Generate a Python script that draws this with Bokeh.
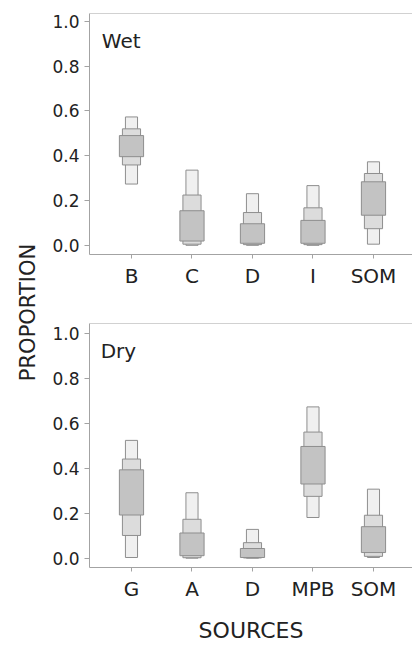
from math import pi
from bokeh.plotting import figure
from bokeh.models import (Range1d, FixedTicker, PrintfTickFormatter, Label, Span,
                          ColumnDataSource)
from bokeh.layouts import row, column
from bokeh.embed import file_html
from bokeh.resources import INLINE

# ---------------- data ----------------
y_ticks = [0.0, 0.2, 0.4, 0.6, 0.8, 1.0]

wet_sources = ["B", "C", "D", "I", "SOM"]
wet_lo95 = [0.274, 0.001, 0.001, 0.001, 0.006]
wet_hi95 = [0.573, 0.336, 0.231, 0.267, 0.373]
wet_lo75 = [0.359, 0.006, 0.004, 0.004, 0.075]
wet_hi75 = [0.520, 0.225, 0.147, 0.168, 0.321]
wet_lo50 = [0.396, 0.020, 0.010, 0.010, 0.135]
wet_hi50 = [0.490, 0.155, 0.097, 0.112, 0.284]

dry_sources = ["G", "A", "D", "MPB", "SOM"]
dry_lo95 = [0.004, 0.001, 0.001, 0.182, 0.004]
dry_hi95 = [0.525, 0.292, 0.129, 0.674, 0.308]
dry_lo75 = [0.102, 0.003, 0.002, 0.276, 0.009]
dry_hi75 = [0.442, 0.174, 0.070, 0.562, 0.192]
dry_lo50 = [0.193, 0.012, 0.004, 0.331, 0.026]
dry_hi50 = [0.394, 0.113, 0.044, 0.498, 0.141]

FONT = "DejaVu Sans"
AX = "#a3a3a3"
TXT = "#222222"
EDGE = "#8e8e8e"


def panel(name, cats, lo95, hi95, lo75, hi75, lo50, hi50, height, b_top, b_bottom,
          y0, y1, name_x, name_y, xlabel=None):
    p = figure(width=372, height=height, output_backend="svg", toolbar_location=None,
               x_range=Range1d(0.306, 5.645), y_range=Range1d(y0, y1),
               min_border_left=49, min_border_right=0,
               min_border_top=b_top, min_border_bottom=b_bottom)
    p.outline_line_color = None
    p.grid.visible = False
    p.background_fill_color = "white"
    p.border_fill_color = "white"

    pos = list(range(1, len(cats) + 1))
    src = ColumnDataSource(dict(x=pos, lo95=lo95, hi95=hi95, lo75=lo75, hi75=hi75,
                                lo50=lo50, hi50=hi50))
    p.vbar(x="x", width=0.2, bottom="lo95", top="hi95", source=src,
           fill_color="#f0f0f0", line_color=EDGE, line_width=1)
    p.vbar(x="x", width=0.3, bottom="lo75", top="hi75", source=src,
           fill_color="#dcdcdc", line_color=EDGE, line_width=1)
    p.vbar(x="x", width=0.4, bottom="lo50", top="hi50", source=src,
           fill_color="#c3c3c3", line_color=EDGE, line_width=1)

    xa = p.xaxis[0]
    xa.ticker = FixedTicker(ticks=pos)
    xa.major_label_overrides = {i: c for i, c in zip(pos, cats)}
    xa.minor_tick_line_color = None
    xa.major_tick_in = 0
    xa.major_tick_out = 4
    xa.major_label_standoff = 5
    xa.axis_line_color = AX
    xa.major_tick_line_color = AX
    xa.major_label_text_font = FONT
    xa.major_label_text_font_size = "20px"
    xa.major_label_text_color = TXT
    if xlabel:
        xa.axis_label = xlabel
        xa.axis_label_text_font = FONT
        xa.axis_label_text_font_size = "22px"
        xa.axis_label_text_font_style = "normal"
        xa.axis_label_text_color = TXT
        xa.axis_label_standoff = 14

    ya = p.yaxis[0]
    ya.ticker = FixedTicker(ticks=y_ticks)
    ya.formatter = PrintfTickFormatter(format="%.1f")
    ya.minor_tick_line_color = None
    ya.major_tick_in = 0
    ya.major_tick_out = 5
    ya.major_label_standoff = 5
    ya.axis_line_color = AX
    ya.major_tick_line_color = AX
    ya.major_label_text_font = FONT
    ya.major_label_text_font_size = "17px"
    ya.major_label_text_color = TXT

    p.add_layout(Span(location=y1, dimension="width", line_color=AX, line_width=1))
    p.add_layout(Label(x=name_x, y=name_y, text=name, text_font=FONT,
                       text_font_size="20px", text_color=TXT,
                       text_baseline="alphabetic", text_align="left"))
    return p


top = panel("Wet", wet_sources, wet_lo95, wet_hi95, wet_lo75, wet_hi75, wet_lo50, wet_hi50,
            height=290, b_top=13, b_bottom=34, y0=-0.040, y1=1.034,
            name_x=0.51, name_y=0.912)
bottom = panel("Dry", dry_sources, dry_lo95, dry_hi95, dry_lo75, dry_hi75, dry_lo50, dry_hi50,
               height=355, b_top=33, b_bottom=73, y0=-0.0405, y1=1.045,
               name_x=0.49, name_y=0.924, xlabel="SOURCES")

lab = figure(width=40, height=645, output_backend="svg", toolbar_location=None,
             x_range=Range1d(0, 40), y_range=Range1d(0, 645),
             min_border=0, min_border_left=0, min_border_right=0,
             min_border_top=0, min_border_bottom=0)
lab.axis.visible = False
lab.grid.visible = False
lab.outline_line_color = None
lab.border_fill_color = "white"
lab.background_fill_color = "white"
lab.add_layout(Label(x=27.5, y=645 - 312, text="PROPORTION", angle=pi / 2,
                     text_font=FONT, text_font_size="21px", text_color=TXT,
                     text_align="center", text_baseline="alphabetic"))

layout = row(lab, column(top, bottom))
open("out.html", "w").write(file_html(layout, INLINE))
